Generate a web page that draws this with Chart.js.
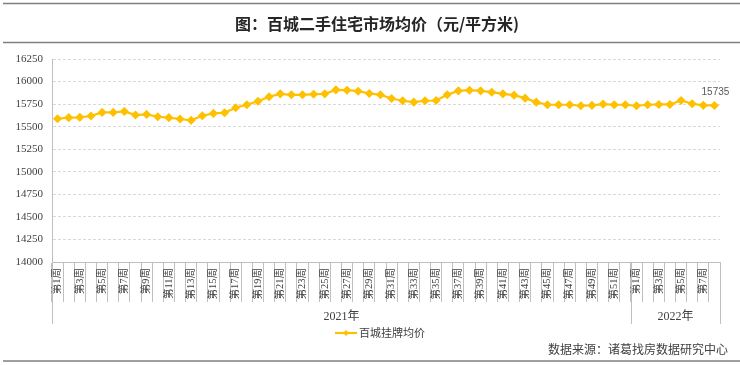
<!DOCTYPE html>
<html><head><meta charset="utf-8">
<script src="https://cdn.jsdelivr.net/npm/chart.js@4/dist/chart.umd.min.js"></script>
<style>html,body{margin:0;padding:0;background:#fff}#wrap{width:740px;height:365px;position:relative}</style>
</head><body>
<div id="wrap"><canvas id="c" width="740" height="365"></canvas></div>
<script>
const title = '图：百城二手住宅市场均价（元/平方米)';
const seriesName = '百城挂牌均价';
const source = '数据来源：诸葛找房数据研究中心';
const years = ['2021年', '2022年'];
const weeks2021 = 52;
const weeks2022 = 8;
const yTicks = [14000, 14250, 14500, 14750, 15000, 15250, 15500, 15750, 16000, 16250];
const prices2021 = [15588, 15600, 15603, 15618, 15658, 15658, 15669, 15629, 15636, 15610,
  15600, 15585, 15570, 15621, 15647, 15654, 15710, 15743, 15781, 15831,
  15864, 15853, 15853, 15860, 15864, 15908, 15904, 15893, 15868, 15853,
  15812, 15787, 15772, 15787, 15790, 15853, 15897, 15904, 15897, 15882,
  15864, 15849, 15816, 15772, 15743, 15743, 15743, 15732, 15736, 15750,
  15743, 15743];
const prices2022 = [15732, 15743, 15746, 15746, 15790, 15754, 15736, 15735];

const categories = [];
for (let i = 1; i <= weeks2021; i++) categories.push('第' + i + '周');
for (let i = 1; i <= weeks2022; i++) categories.push('第' + i + '周');
const values = prices2021.concat(prices2022);

const serif = "'Liberation Serif', 'Noto Sans CJK SC', serif";
const cjk = "'Noto Sans CJK SC', sans-serif";

const decor = {
  id: 'decor',
  afterDraw(chart) {
    const ctx = chart.ctx;
    const x = chart.scales.x, y = chart.scales.y;
    ctx.save();
    ctx.strokeStyle = '#7f7f7f';
    ctx.lineWidth = 1.6;
    [3.5, 42.5, 361].forEach(yy => {
      ctx.beginPath(); ctx.moveTo(3, yy); ctx.lineTo(740, yy); ctx.stroke();
    });
    ctx.fillStyle = '#262626';
    ctx.font = "bold 16px " + cjk;
    ctx.textAlign = 'center'; ctx.textBaseline = 'middle';
    ctx.fillText(title, 377, 24);
    const n = categories.length;
    const half = (x.getPixelForValue(1) - x.getPixelForValue(0)) / 2;
    const bLeft = x.getPixelForValue(0) - half;
    const bMid = x.getPixelForValue(weeks2021) - half;
    const bRight = x.getPixelForValue(n - 1) + half;
    ctx.strokeStyle = '#bfbfbf'; ctx.lineWidth = 1;
    [bLeft, bMid, bRight].forEach(px => {
      const p = Math.round(px) + 0.5;
      ctx.beginPath(); ctx.moveTo(p, chart.chartArea.bottom); ctx.lineTo(p, 324); ctx.stroke();
    });
    ctx.fillStyle = '#404040';
    ctx.font = "12px " + serif;
    ctx.fillText(years[0], (bLeft + bMid) / 2, 317);
    ctx.fillText(years[1], (bMid + bRight) / 2, 317);
    const lastX = x.getPixelForValue(n - 1), lastY = y.getPixelForValue(values[n - 1]);
    ctx.font = "10px 'Liberation Sans', sans-serif";
    ctx.fillStyle = '#595959';
    ctx.fillText(String(values[n - 1]), lastX + 1, lastY - 13);
    const ly = 333;
    ctx.strokeStyle = '#FFC000'; ctx.lineWidth = 2.2;
    ctx.beginPath(); ctx.moveTo(335, ly); ctx.lineTo(357, ly); ctx.stroke();
    ctx.fillStyle = '#FFC000';
    ctx.beginPath(); ctx.moveTo(346, ly - 3); ctx.lineTo(349, ly); ctx.lineTo(346, ly + 3); ctx.lineTo(343, ly); ctx.closePath(); ctx.fill();
    ctx.fillStyle = '#404040';
    ctx.font = "11px " + cjk;
    ctx.textAlign = 'left';
    ctx.fillText(seriesName, 359, ly);
    ctx.textAlign = 'right';
    ctx.font = "12px " + cjk;
    ctx.fillText(source, 728, 349);
    ctx.restore();
  }
};

new Chart(document.getElementById('c'), {
  type: 'line',
  data: {
    labels: categories,
    datasets: [{
      label: seriesName,
      data: values,
      borderColor: '#FFC000',
      backgroundColor: '#FFC000',
      borderWidth: 2.2,
      pointStyle: 'rectRot',
      pointRadius: 3,
      pointBackgroundColor: '#FFC000',
      pointBorderColor: '#FFC000',
      tension: 0
    }]
  },
  options: {
    responsive: false,
    animation: false,
    layout: { padding: { left: 0, right: 20, top: 59, bottom: 0 } },
    plugins: { legend: { display: false }, tooltip: { enabled: false }, title: { display: false } },
    scales: {
      x: {
        type: 'category',
        offset: true,
        afterFit(s) { s.height = 103; },
        grid: { display: true, offset: true, drawOnChartArea: false, drawTicks: true, tickLength: 40, color: '#bfbfbf' },
        border: { display: true, color: '#bfbfbf' },
        ticks: {
          autoSkip: false, minRotation: 90, maxRotation: 90, padding: -34,
          color: '#404040', font: { size: 10.5, family: serif },
          callback(v, i) { return i % 2 === 0 ? categories[i] : ''; }
        }
      },
      y: {
        min: 14000, max: 16250,
        afterFit(s) { s.width = 52; },
        afterBuildTicks(s) { s.ticks = yTicks.map(v => ({ value: v })); },
        grid: { color: '#d9d9d9', drawTicks: false },
        border: { display: true, color: '#bfbfbf', dash: [3, 2] },
        ticks: { padding: 9, color: '#404040', font: { size: 11, family: serif },
          callback(v) { return String(v); } }
      }
    }
  },
  plugins: [decor]
});
</script>
</body></html>
